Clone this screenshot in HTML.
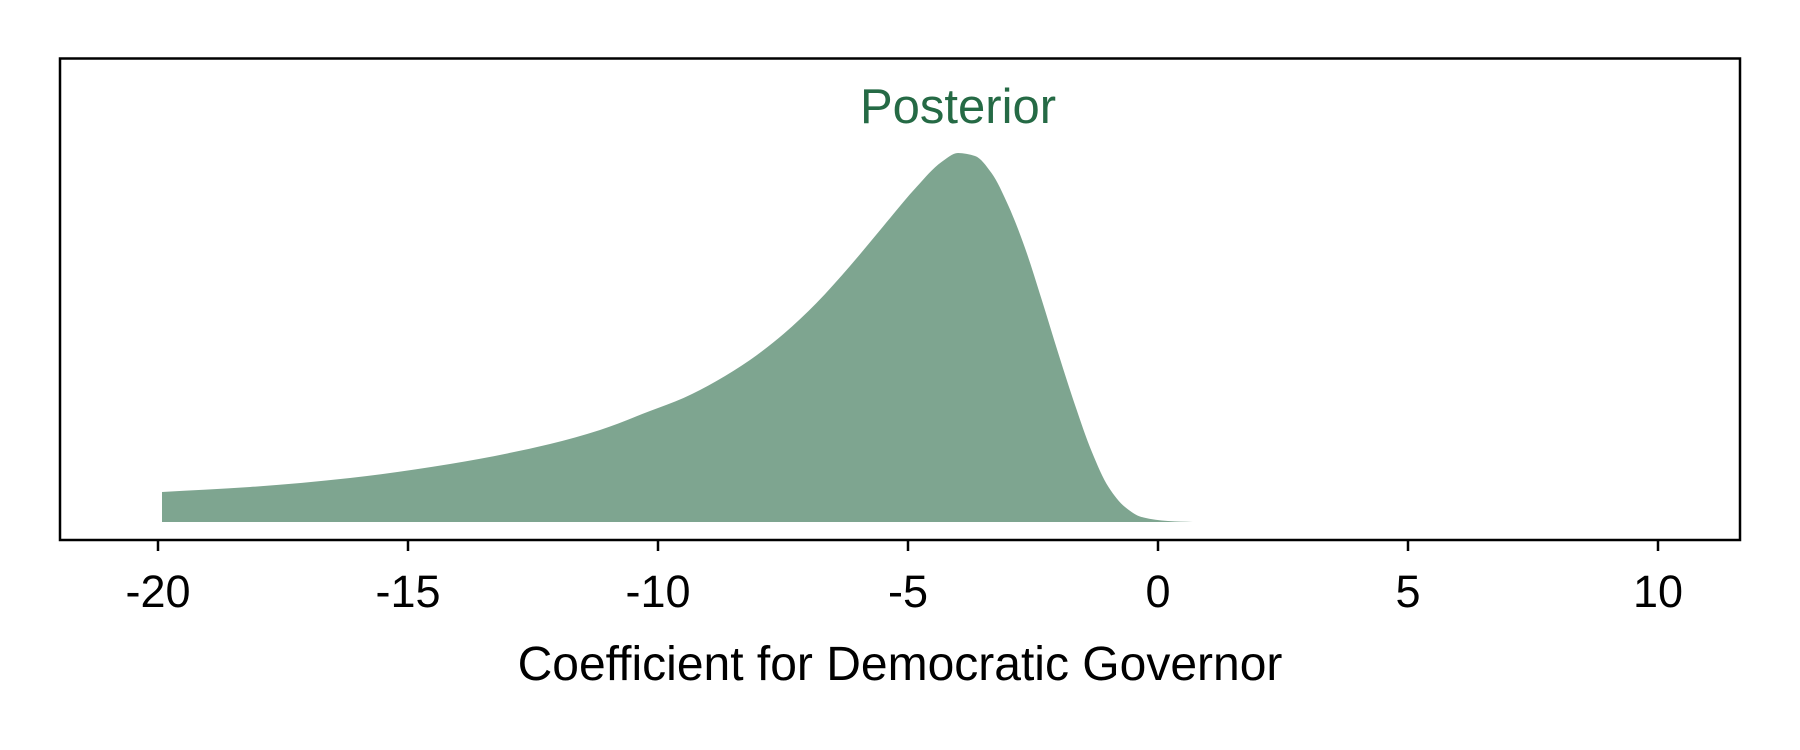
<!DOCTYPE html>
<html><head><meta charset="utf-8"><style>
html,body{margin:0;padding:0;background:#fff;}
svg{display:block;font-family:"Liberation Sans",Arial,sans-serif;}
</style></head><body>
<svg id="chart" width="1800" height="750" viewBox="0 0 1800 750">
<rect x="0" y="0" width="1800" height="750" fill="#fff"/>
<g id="plot"></g>
<rect x="60" y="58.5" width="1680" height="481.5" fill="none" stroke="#000" stroke-width="2.5"/>
<g id="ticks"></g>
<text x="958" y="123" text-anchor="middle" font-size="49" fill="#256a45">Posterior</text>
<text x="900" y="680" text-anchor="middle" font-size="48" fill="#000">Coefficient for Democratic Governor</text>
</svg>
<script>
const xs = [-19.92,-18.16,-16.16,-14.16,-12.16,-11.16,-10.16,-9.49,-8.83,-8.16,-7.49,-6.83,-6.16,-5.49,-4.83,-4.33,-4.0,-3.66,-3.33,-2.99,-2.66,-2.33,-1.99,-1.66,-1.33,-0.99,-0.66,-0.33,0.2,0.7];
const density = [30,35,44,58,78,92,111,124,141,162,188,219,256,296,335,360,369,366,349,316,274,223,168,117,71,35,15,5,1,0];
const tickValues = [-20,-15,-10,-5,0,5,10];
const tickLabels = ["-20","-15","-10","-5","0","5","10"];

const NS="http://www.w3.org/2000/svg";
function sx(v){return 1158+v*50;}
function sy(d){return 522-d;}
const plot=document.getElementById('plot');
const X=xs.map(sx), Y=density.map(sy);
const n=X.length;
const dk=[],m=[];
for(let i=0;i<n-1;i++) dk.push((Y[i+1]-Y[i])/(X[i+1]-X[i]));
m[0]=dk[0]; m[n-1]=dk[n-2];
for(let i=1;i<n-1;i++){
  if(dk[i-1]*dk[i]<=0) m[i]=0;
  else { const h0=X[i]-X[i-1],h1=X[i+1]-X[i];
    m[i]=3*(h0+h1)/((2*h1+h0)/dk[i-1]+(h1+2*h0)/dk[i]); }
}
let d=`M${X[0]},${sy(0)} L${X[0]},${Y[0]}`;
for(let i=0;i<n-1;i++){
  const h=(X[i+1]-X[i])/3;
  d+=` C${X[i]+h},${Y[i]+m[i]*h} ${X[i+1]-h},${Y[i+1]-m[i+1]*h} ${X[i+1]},${Y[i+1]}`;
}
d+=` L${X[n-1]},${sy(0)} Z`;
const area=document.createElementNS(NS,'path');
area.setAttribute('d',d);
area.setAttribute('fill','#7ea590');


plot.appendChild(area);

const tg=document.getElementById('ticks');
tickValues.forEach((v,i)=>{
  const l=document.createElementNS(NS,'line');
  l.setAttribute('x1',sx(v));l.setAttribute('x2',sx(v));
  l.setAttribute('y1',540);l.setAttribute('y2',551);
  l.setAttribute('stroke','#000');l.setAttribute('stroke-width','2.5');
  
  
  tg.appendChild(l);
  const t=document.createElementNS(NS,'text');
  t.setAttribute('x',sx(v));t.setAttribute('y',607);
  t.setAttribute('text-anchor','middle');t.setAttribute('font-size','45');
  t.textContent=tickLabels[i];
  
  
  tg.appendChild(t);
});
</script>
</body></html>
